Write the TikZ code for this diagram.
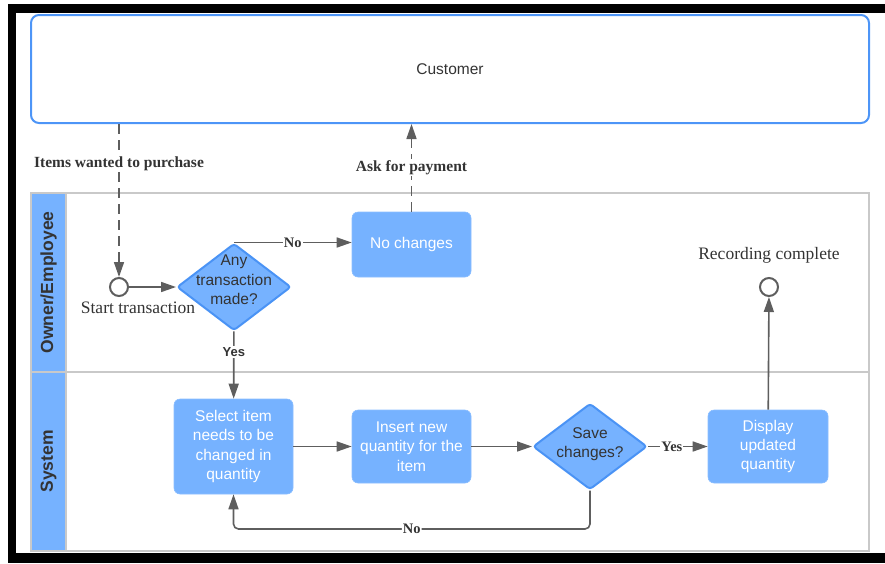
\documentclass[tikz,border=0pt]{standalone}
\usepackage{fontspec}
\setmainfont{Liberation Serif}
\setsansfont{Liberation Sans}
\usetikzlibrary{arrows.meta,positioning,shapes.geometric}

\definecolor{taskfill}   {HTML}{76B2FF}
\definecolor{gateborder} {HTML}{4A93F5}
\definecolor{poolborder} {HTML}{4D95F7}
\definecolor{laneborder} {HTML}{C9C9C9}
\definecolor{linegrey}   {HTML}{5E5E5E}
\definecolor{labelcolor} {HTML}{333333}

\newcommand{\boxfont}{\sffamily\fontsize{15.5}{19.3}\selectfont}
\newcommand{\notefont}{\rmfamily\fontsize{17.5}{20}\selectfont}

\tikzset{
  frameband/.style={fill=black},
  laneline/.style={draw=laneborder, line width=1.5pt},
  poolbox/.style={rectangle, rounded corners=8pt, draw=poolborder, line width=2pt,
    inner sep=0pt, font=\boxfont, text=labelcolor},
  lanehead/.style={rectangle, fill=taskfill, draw=laneborder, line width=1.5pt,
    rotate=90, minimum height=35pt, inner sep=0pt, text=labelcolor,
    font=\sffamily\bfseries\fontsize{17.5}{20}\selectfont},
  taskbox/.style={rectangle, rounded corners=6pt, fill=taskfill, draw=taskfill!85!white,
    line width=0.6pt, minimum width=119pt, inner sep=0pt, align=center,
    font=\boxfont, text=white},
  gateway/.style={diamond, rounded corners=3pt, fill=taskfill, draw=gateborder,
    line width=2pt, minimum width=114pt, minimum height=87pt, inner sep=0pt},
  gatetext/.style={align=center, font=\boxfont, text=labelcolor, inner sep=0pt},
  event/.style={circle, draw=linegrey, line width=2pt, fill=white,
    minimum size=18pt, inner sep=0pt},
  eventtext/.style={font=\notefont, text=labelcolor, inner sep=0pt},
  flow/.style={draw=linegrey, line width=1.6pt, -{Triangle[length=15pt,width=10pt]}},
  msgflow/.style={flow, dash pattern=on 10pt off 6pt},
  msglabel/.style={fill=white, inner sep=1.5pt, text=labelcolor,
    font=\rmfamily\bfseries\fontsize{15.5}{18}\selectfont},
  edgelabel/.style={fill=white, inner sep=1pt, text=labelcolor,
    font=\rmfamily\bfseries\fontsize{14.5}{16}\selectfont},
  sanslabel/.style={fill=white, inner sep=1.5pt, text=labelcolor,
    font=\sffamily\bfseries\fontsize{13}{15}\selectfont}
}

\begin{document}
\begin{tikzpicture}[x=1pt, y=-1pt]
\useasboundingbox (0,0) rectangle (885,563);

%% ── Frame ─────────────────────────────────────────────────────────
\fill[frameband] (8,4) rectangle (885,13);
\fill[frameband] (8,4) rectangle (16,563);
\fill[frameband] (8,553) rectangle (885,563);

%% ── Customer pool ─────────────────────────────────────────────────
\node[poolbox, minimum width=838pt, minimum height=108pt] (customer) at (450,69) {Customer};

%% ── Lanes ─────────────────────────────────────────────────────────
\draw[laneline] (31,193) rectangle (869,551);
\draw[laneline] (31,372) -- (869,372);
\node[lanehead, minimum width=179pt] (ownerlane) at (48.5,282.5) {Owner/Employee};
\node[lanehead, minimum width=179pt] (systemlane) at (48.5,461.5) {System};

%% ── Owner/Employee lane ───────────────────────────────────────────
\node[event] (start) at (119,287) {};
\node[eventtext] (starttext) at (138,308) {Start transaction};
\node[gateway, label={[gatetext, yshift=7pt]center:{Any\\transaction\\made?}}] (trans) at (234,287) {};
\node[taskbox, minimum height=65pt] (nochange) at (411.5,244.5) {No changes};
\node[eventtext] (endtext) at (769,255) {Recording complete};
\node[event] (finish) at (769,287) {};

%% ── System lane ───────────────────────────────────────────────────
\node[taskbox, minimum height=95pt] (select) at (233.5,446.5) {Select item\\needs to be\\changed in\\quantity};
\node[taskbox, minimum height=73pt] (insert) at (411.5,446.5) {Insert new\\quantity for the\\item};
\node[gateway, minimum height=86pt, label={[gatetext, yshift=2pt]center:{Save\\changes?}}] (save) at (590,446.5) {};
\node[taskbox, minimum width=120pt, minimum height=73pt] (display) at (768,446.5) {Display\\updated\\quantity};

%% ── Message flows ─────────────────────────────────────────────────
\draw[msgflow] (customer.south -| start) -- node[msglabel, pos=0.26] {Items wanted to purchase} (start);
\draw[msgflow] (nochange.north) -- node[msglabel, pos=0.5] {Ask for payment} (nochange.north |- customer.south);

%% ── Sequence flows ────────────────────────────────────────────────
\draw[flow] (start) -- (trans);
\draw[flow] (trans.north) -- node[edgelabel] {No} (trans.north -| nochange.west);
\draw[flow] (trans) -- node[sanslabel, pos=0.3] {Yes} (select);
\draw[flow] (select) -- (insert);
\draw[flow] (insert) -- (save);
\draw[flow] (save) -- node[edgelabel, pos=0.4] {Yes} (display);
\draw[flow, rounded corners=5pt] (save.south) -- (save.south |- 0,529) -| node[edgelabel, pos=0.25] {No} (select.south);
\draw[flow] (display) -- (finish);
\end{tikzpicture}
\end{document}
